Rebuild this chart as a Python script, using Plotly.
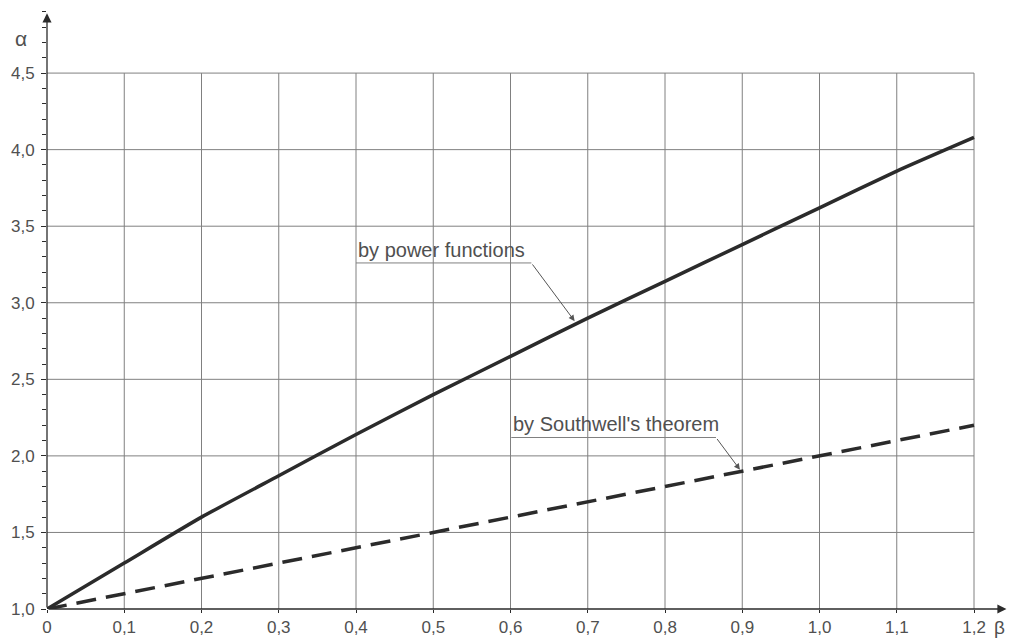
import plotly.graph_objects as go

# beta values and the two alpha curves
beta = [0.0, 0.1, 0.2, 0.3, 0.4, 0.5, 0.6, 0.7, 0.8, 0.9, 1.0, 1.1, 1.2]
alpha_power = [1.0, 1.30, 1.60, 1.87, 2.14, 2.40, 2.65, 2.90, 3.14, 3.38, 3.62, 3.86, 4.08]
alpha_southwell = [1.0, 1.1, 1.2, 1.3, 1.4, 1.5, 1.6, 1.7, 1.8, 1.9, 2.0, 2.1, 2.2]

x_ticks = [0.0, 0.1, 0.2, 0.3, 0.4, 0.5, 0.6, 0.7, 0.8, 0.9, 1.0, 1.1, 1.2]
x_labels = ["0", "0,1", "0,2", "0,3", "0,4", "0,5", "0,6", "0,7", "0,8", "0,9", "1,0", "1,1", "1,2"]
y_ticks = [1.0, 1.5, 2.0, 2.5, 3.0, 3.5, 4.0, 4.5]
y_labels = ["1,0", "1,5", "2,0", "2,5", "3,0", "3,5", "4,0", "4,5"]

INK = "#2b2b2b"
GRID = "#808080"
TEXT = "#505050"
FONT = "Liberation Sans, Arial, sans-serif"

fig = go.Figure()

fig.add_trace(go.Scatter(
    x=beta, y=alpha_power, mode="lines",
    line=dict(color=INK, width=3.5, shape="spline", smoothing=0.5),
    cliponaxis=False, showlegend=False,
))
fig.add_trace(go.Scatter(
    x=beta, y=alpha_southwell, mode="lines",
    line=dict(color=INK, width=3.5, dash="20px,10px"), cliponaxis=False, showlegend=False,
))

shapes = []
# grid, bounded by the last tick on each axis
for xv in x_ticks[1:]:
    shapes.append(dict(type="line", xref="x", yref="y", x0=xv, x1=xv, y0=1.0, y1=4.5,
                       line=dict(color=GRID, width=1), layer="below"))
for yv in y_ticks[1:]:
    shapes.append(dict(type="line", xref="x", yref="y", x0=0, x1=1.2, y0=yv, y1=yv,
                       line=dict(color=GRID, width=1), layer="below"))

# underlines of the callout labels
shapes.append(dict(type="line", xref="x", yref="y", x0=0.400, x1=0.627, y0=3.26, y1=3.26,
                   line=dict(color=GRID, width=1)))
shapes.append(dict(type="line", xref="x", yref="y", x0=0.601, x1=0.866, y0=2.12, y1=2.12,
                   line=dict(color=GRID, width=1)))

annotations = [
    # axes with arrowheads
    dict(x=0, y=4.89, ax=0, ay=1.0, xref="x", yref="y", axref="x", ayref="y",
         showarrow=True, arrowhead=2, arrowsize=1.4, arrowwidth=1.3, arrowcolor=INK, text=""),
    dict(x=1.242, y=1.0, ax=0, ay=1.0, xref="x", yref="y", axref="x", ayref="y",
         showarrow=True, arrowhead=2, arrowsize=1.4, arrowwidth=1.3, arrowcolor=INK, text=""),
    # axis names (paper coords are relative to the plotting area)
    dict(x=-0.027, y=0.95, xref="paper", yref="paper", text="α", showarrow=False,
         xanchor="center", yanchor="middle",
         font=dict(family=FONT, size=21, color=TEXT)),
    dict(x=0.992, y=-0.031, xref="paper", yref="paper", text="β", showarrow=False,
         xanchor="center", yanchor="middle",
         font=dict(family=FONT, size=19, color=TEXT)),
    # callout labels
    dict(x=0.400, y=3.262, xref="x", yref="y", text="by power functions", showarrow=False,
         xanchor="left", yanchor="bottom", font=dict(family=FONT, size=20, color=TEXT)),
    dict(x=0.601, y=2.122, xref="x", yref="y", text="by Southwell's theorem", showarrow=False,
         xanchor="left", yanchor="bottom", font=dict(family=FONT, size=20, color=TEXT)),
    # leader arrows
    dict(x=0.683, y=2.88, ax=0.627, ay=3.26, xref="x", yref="y", axref="x", ayref="y",
         showarrow=True, arrowhead=2, arrowsize=1.2, arrowwidth=1, arrowcolor="#555", text=""),
    dict(x=0.897, y=1.91, ax=0.866, ay=2.12, xref="x", yref="y", axref="x", ayref="y",
         showarrow=True, arrowhead=2, arrowsize=1.2, arrowwidth=1, arrowcolor="#555", text=""),
]

fig.update_layout(
    width=1011, height=639,
    margin=dict(l=47, r=4, t=8, b=30),
    paper_bgcolor="white", plot_bgcolor="white",
    shapes=shapes, annotations=annotations,
    font=dict(family=FONT, size=17, color=TEXT),
    xaxis=dict(range=[0, 1.2427], tickvals=x_ticks, ticktext=x_labels,
               showgrid=False, zeroline=False, showline=False, automargin=False,
               ticks="outside", ticklen=3, tickcolor=INK, tickwidth=1,
               tickfont=dict(family=FONT, size=17, color=TEXT)),
    yaxis=dict(range=[1.0, 4.925], tickvals=y_ticks, ticktext=y_labels,
               showgrid=False, zeroline=False, showline=False, automargin=False,
               ticks="outside", ticklen=5, tickcolor=INK, tickwidth=1,
               ticklabelstandoff=3,
               minor=dict(dtick=0.1, tick0=1.0, ticks="outside", ticklen=4,
                          tickcolor=INK, showgrid=False),
               tickfont=dict(family=FONT, size=17, color=TEXT)),
)

fig.write_html("out.html")
